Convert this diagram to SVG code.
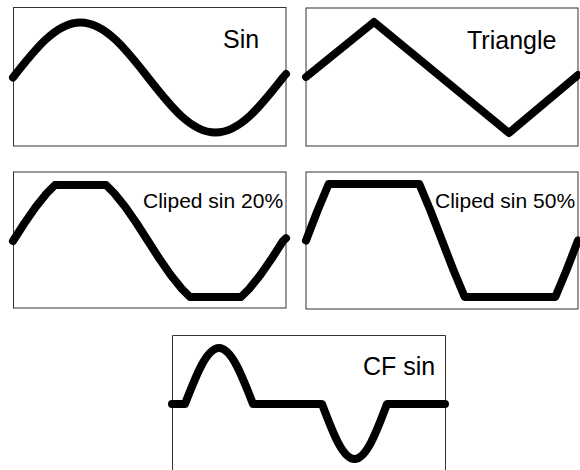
<svg xmlns="http://www.w3.org/2000/svg" width="580" height="470" viewBox="0 0 580 470">
<style>
.box{fill:none;stroke:#333;stroke-width:1}
.wave{fill:none;stroke:#000;stroke-width:8;stroke-linecap:round;stroke-linejoin:round}
.lbl{font-family:"Liberation Sans",Arial,sans-serif;fill:#000}
.big{font-size:25px}
.small{font-size:21px}
</style>
<rect width="580" height="470" fill="#fff"/>
<g id="sin">
<rect class="box" x="13.5" y="7.5" width="272.5" height="138.5"/>
<path class="wave" d="M13,77.5 C35,49.3 56.1,22.5 80.5,22.5 C104.9,22.5 126,49.3 148,77.5 C170,105.7 191.1,132.5 215.5,132.5 C239.9,132.5 261,105.7 283,77.5 L286,74"/>
<text class="lbl big" x="223" y="48">Sin</text>
</g>
<g id="triangle">
<rect class="box" x="306" y="8" width="272" height="138"/>
<path class="wave" d="M306,77 L374,22 L509,133 L578,75"/>
<text class="lbl big" x="467" y="49">Triangle</text>
</g>
<g id="clip20">
<rect class="box" x="13.5" y="172" width="272.5" height="136"/>
<path class="wave" d="M13,241 L24.25,223.5 L35.5,207.25 L46.75,193.3 L55,185 L106,185 L114.25,193.3 L125.5,207.25 L136.75,223.5 L148,241 L159.25,258.5 L170.5,274.75 L181.75,288.7 L190,297 L241,297 L249.25,288.7 L260.5,274.75 L271.75,258.5 L283,241 L286,238.3"/>
<text class="lbl small" x="143" y="208">Cliped sin 20%</text>
</g>
<g id="clip50">
<rect class="box" x="306" y="172" width="272" height="137"/>
<path class="wave" d="M306,240.5 L317.3,211.25 L328.7,184 L419.3,184 L430.7,211.25 L442,240.5 L453.3,269.75 L464.7,297 L555.3,297 L566.7,269.75 L578,240.5"/>
<text class="lbl small" x="435" y="208">Cliped sin 50%</text>
</g>
<g id="cfsin">
<path class="box" d="M172.5,470 V335.5 H445.5 V470"/>
<path class="wave" d="M172,404 L185,404 C196.1,375.3 206.7,348 219,348 C231.3,348 241.9,375.3 253,404 L322,404 C332.6,432.2 342.7,459 354.5,459 C366.3,459 376.4,432.2 387,404 L445,404"/>
<text class="lbl big" x="363" y="375">CF sin</text>
</g>
</svg>
